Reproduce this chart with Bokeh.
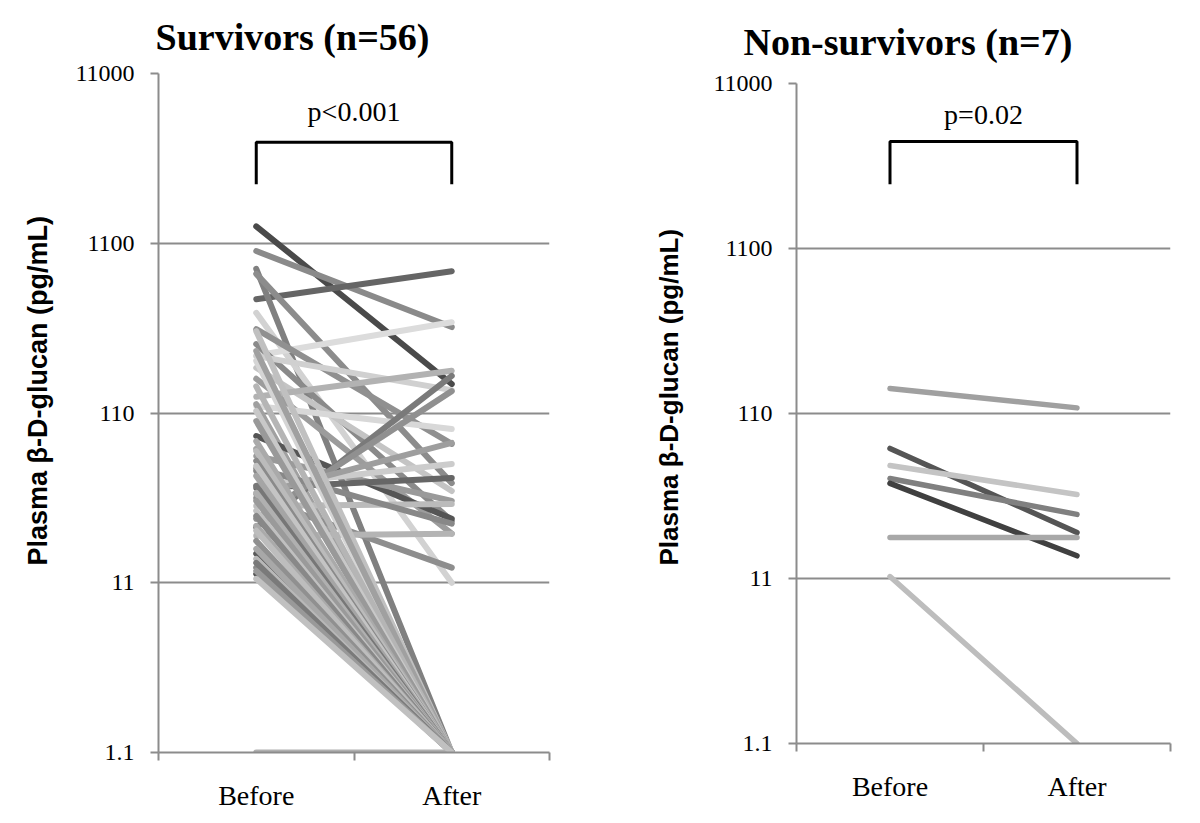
from bokeh.plotting import figure
from bokeh.layouts import row, column
from bokeh.models import Range1d, FixedTicker, Title
from bokeh.core.properties import value
from bokeh.embed import file_html
from bokeh.resources import INLINE

# ---------------- data ----------------
categories = ["Before", "After"]
y_tick_values = [1.1, 11, 110, 1100, 11000]
y_tick_labels = ["1.1", "11", "110", "1100", "11000"]
y_label = "Plasma β-D-glucan (pg/mL)"

surv_before = [1384, 990, 515, 778, 726, 428, 240, 343, 280, 238, 203, 175, 137, 121,
               124, 80.5, 67.6, 61.4, 50.1, 39.8, 41, 31.2, 34.8, 23.3, 26.2, 20.8,
               36.5, 16.3, 13.5, 12.4, 1.1, 52, 223,
               334, 255, 158, 113, 98.6, 75, 65.6, 57.4, 53.6, 46.8, 40.9, 37.2, 33.4,
               29.2, 27.2, 23.8, 22.3, 19.4, 17.4, 15.2, 14.4, 12.9, 11.6]
surv_after = [163, 353, 753, 1.1, 42.5, 11.0, 377, 72.3, 25.4, 150, 38.2, 21.4, 195, 88.5,
              1.1, 26.2, 1.1, 33.4, 1.1, 45.6, 55.1, 32, 13.5, 182, 148, 21.4,
              73.3, 1.1, 1.1, 1.1, 1.1, 24.5, 1.1,
              1.1, 1.1, 1.1, 1.1, 1.1, 1.1, 1.1, 1.1, 1.1, 1.1, 1.1, 1.1, 1.1,
              1.1, 1.1, 1.1, 1.1, 1.1, 1.1, 1.1, 1.1, 1.1, 1.1]

nonsurv_before = [156, 67.6, 53.2, 44.4, 41.5, 19.5, 11.3]
nonsurv_after = [119, 20.9, 35.5, 26.9, 15.1, 19.5, 1.1]

# ---------------- styles ----------------
surv_colors = ["#4a4a4a", "#8a8a8a", "#656565", "#808080", "#8c8c8c", "#d2d2d2", "#dcdcdc",
               "#909090", "#8a8a8a", "#d0d0d0", "#c4c4c4", "#9c9c9c", "#b2b2b2", "#d8d8d8",
               "#a0a0a0", "#555555", "#a4a4a4", "#9a9a9a", "#8a8a8a", "#666666", "#cccccc",
               "#bbbbbb", "#8e8e8e", "#7a7a7a", "#909090", "#b4b4b4", "#9e9e9e", "#5a5a5a",
               "#8a8a8a", "#555555", "#b0b0b0", "#888888", "#d5d5d5",
               "#c0c0c0", "#a0a0a0", "#b5b5b5", "#c8c8c8", "#999999", "#aaaaaa", "#bbbbbb",
               "#8a8a8a", "#c4c4c4", "#a5a5a5", "#777777", "#b0b0b0", "#9a9a9a", "#c0c0c0",
               "#888888", "#aaaaaa", "#bdbdbd", "#909090", "#a8a8a8", "#b8b8b8", "#7a7a7a",
               "#999999", "#c0c0c0"]
nonsurv_colors = ["#a0a0a0", "#555555", "#c4c4c4", "#808080", "#404040", "#a8a8a8", "#bdbdbd"]

GRAY = "#8c8c8c"
SERIF = "Liberation Serif"


def make_panel(title, before, after, colors, ptext, ann, width, height,
               border_left, border_right, border_top, border_bottom, title_offset,
               title_standoff, ylabel_offset, ylabel_standoff, ylabel_size, lw):
    p = figure(width=width, height=height, y_axis_type="log",
               x_range=Range1d(0, 2), y_range=Range1d(1.1, 11000),
               output_backend="svg", toolbar_location=None,
               min_border_left=border_left, min_border_right=border_right,
               min_border_top=border_top, min_border_bottom=border_bottom)
    p.outline_line_color = None
    p.background_fill_color = "white"
    p.border_fill_color = "white"

    p.title.text = title
    p.title.text_font = SERIF
    p.title.text_font_style = "bold"
    p.title.text_font_size = "38px"
    p.title.text_color = "black"
    p.title.align = "left"
    p.title.vertical_align = "top"
    p.title.offset = title_offset
    p.title.standoff = title_standoff

    # y axis
    yax = p.yaxis[0]
    yax.ticker = FixedTicker(ticks=y_tick_values, minor_ticks=[])
    yax.major_label_overrides = dict(zip(y_tick_values, y_tick_labels))
    yax.major_label_text_font = SERIF
    yax.major_label_text_font_size = "24px"
    yax.major_label_text_color = "black"
    yax.major_label_standoff = 16
    yax.major_tick_out = 8
    yax.major_tick_in = 0
    yax.major_tick_line_color = GRAY
    yax.major_tick_line_width = 2
    yax.axis_line_color = GRAY
    yax.axis_line_width = 2

    ylab = Title(text=y_label, text_font="Liberation Sans", text_font_style="bold",
                 text_font_size=ylabel_size, text_color="black", align="left",
                 offset=ylabel_offset, standoff=ylabel_standoff)
    p.add_layout(ylab, "left")

    # x axis
    xax = p.xaxis[0]
    xax.ticker = FixedTicker(ticks=[0.5, 1.5], minor_ticks=[0, 1, 2])
    xax.major_label_overrides = dict(zip([0.5, 1.5], categories))
    xax.major_label_text_font = SERIF
    xax.major_label_text_font_size = "28px"
    xax.major_label_text_color = "black"
    xax.major_label_standoff = 19
    xax.major_tick_out = 0
    xax.major_tick_in = 0
    xax.minor_tick_out = 8
    xax.minor_tick_in = 0
    xax.minor_tick_line_color = GRAY
    xax.minor_tick_line_width = 2
    xax.axis_line_color = GRAY
    xax.axis_line_width = 2

    p.xgrid.grid_line_color = None
    p.ygrid.ticker = FixedTicker(ticks=y_tick_values, minor_ticks=[])
    p.ygrid.grid_line_color = GRAY
    p.ygrid.grid_line_width = 2

    xs = [[0.5, 1.5] for _ in before]
    ys = [[b, a] for b, a in zip(before, after)]
    p.multi_line(xs=xs, ys=ys, line_color=colors, line_width=lw, line_cap="round")

    # significance bracket and p-value
    y_low, y_high, y_text = ann
    p.line(x=[0.5, 0.5, 1.5, 1.5], y=[y_low, y_high, y_high, y_low],
           line_color="black", line_width=3)
    p.text(x=[1.0], y=[y_text], text=[ptext], text_align="center",
           text_baseline="middle", text_font=value(SERIF), text_font_size="28px",
           text_color="black")
    return p


p1 = make_panel("Survivors (n=56)", surv_before, surv_after, surv_colors, "p<0.001",
                (2446, 4327, 6570), width=600, height=822,
                border_left=158, border_right=51, border_top=73, border_bottom=70,
                title_offset=-3, title_standoff=28, ylabel_offset=187,
                ylabel_standoff=40, ylabel_size="27px", lw=6)
p2 = make_panel("Non-survivors (n=7)", nonsurv_before, nonsurv_after, nonsurv_colors,
                "p=0.02", (2693, 4893, 7156), width=590, height=822,
                border_left=196, border_right=20, border_top=83, border_bottom=79,
                title_offset=-53, title_standoff=38, ylabel_offset=178,
                ylabel_standoff=54, ylabel_size="26px", lw=5.5)

layout = row(column(p1), column(p2))
open("out.html", "w").write(file_html(layout, INLINE))
